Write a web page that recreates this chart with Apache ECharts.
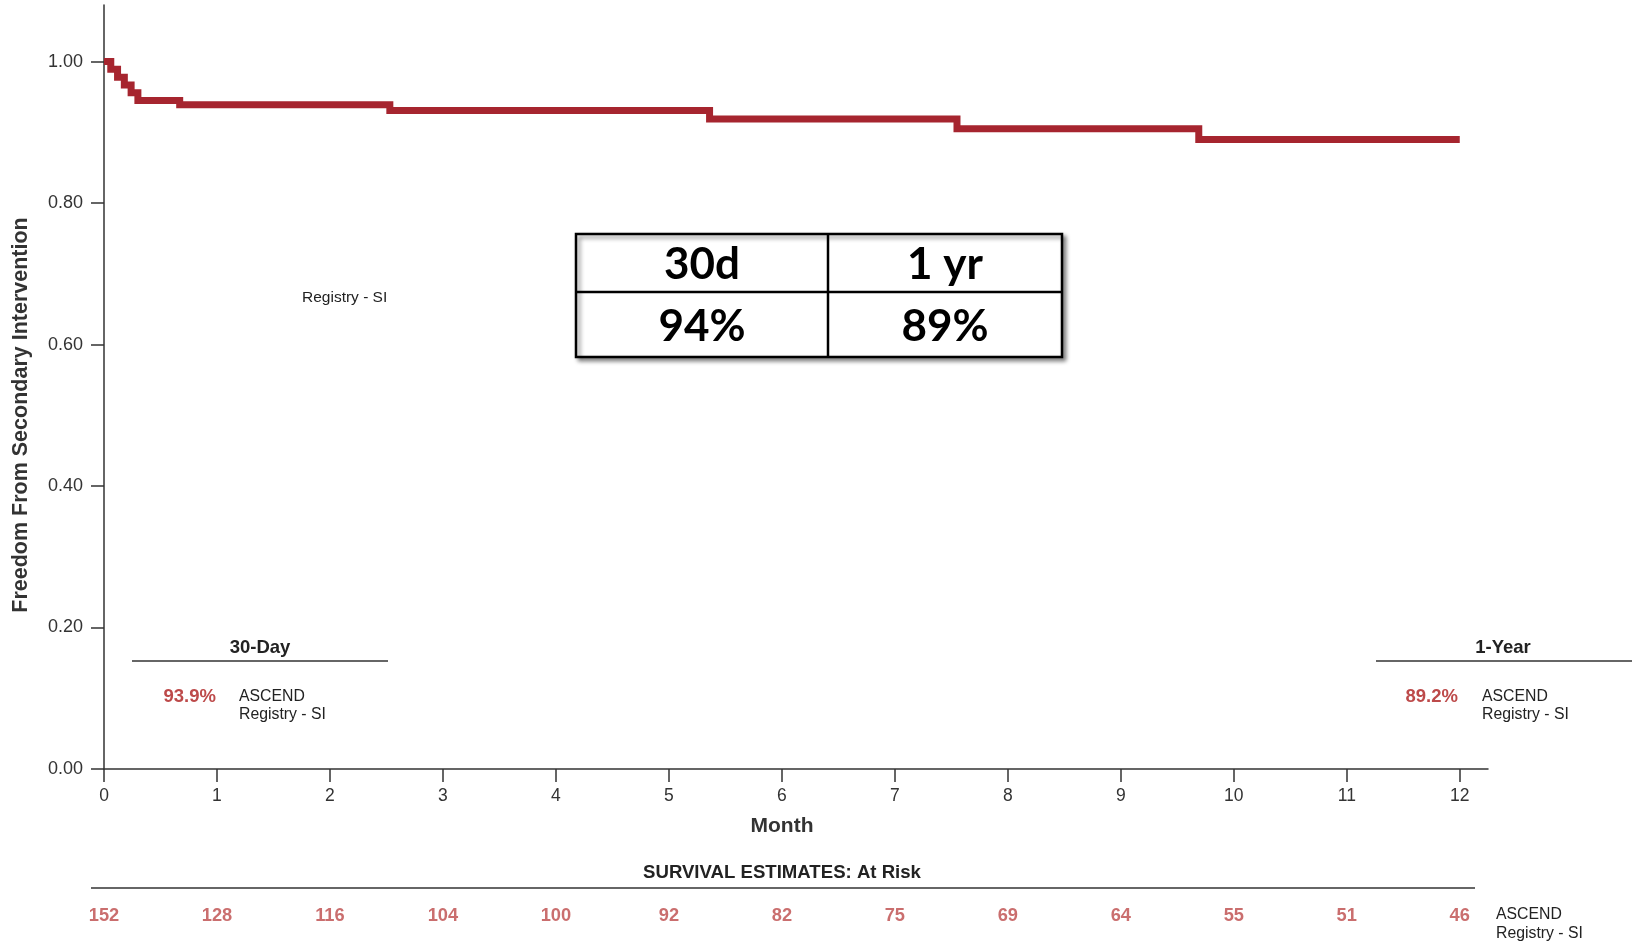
<!DOCTYPE html>
<html><head><meta charset="utf-8">
<script src="https://cdn.jsdelivr.net/npm/echarts@6/dist/echarts.min.js"></script>
<style>html,body{margin:0;padding:0;background:#fff}#c{width:1635px;height:942px}</style>
</head><body><div id="c"></div>
<script>
// Kaplan-Meier step data (months, freedom from secondary intervention)
const kmMonths = [0, 0.06, 0.12, 0.18, 0.24, 0.30, 0.67, 2.53, 5.36, 7.55, 9.69, 12];
const kmValues = [1.0, 0.989, 0.978, 0.967, 0.956, 0.945, 0.939, 0.931, 0.919, 0.905, 0.890, 0.890];
// At-risk table
const riskMonths = [0,1,2,3,4,5,6,7,8,9,10,11,12];
const atRisk = [152,128,116,104,100,92,82,75,69,64,55,51,46];
// Tick values
const xTicks = [0,1,2,3,4,5,6,7,8,9,10,11,12];
const yTicks = [0,0.2,0.4,0.6,0.8,1.0];
// Summary table
const tableHead = ['30d','1 yr'];
const tableVals = ['94%','89%'];
const est30 = '93.9%', est1y = '89.2%';

const RED = '#a6252f', TXTRED = '#bd4a4a', AX = '#333';
const FONT = '"Liberation Sans", Arial, sans-serif';
const chart = echarts.init(document.getElementById('c'));

const graphic = [];
function txt(x,y,text,opt){ graphic.push(Object.assign({type:'text',silent:true,style:Object.assign({x,y,text,font:'15px '+FONT,fill:'#222',textAlign:'left',textVerticalAlign:'middle'},opt||{})})); }
function line(x1,y1,x2,y2,w,c){ graphic.push({type:'line',silent:true,shape:{x1,y1,x2,y2},style:{stroke:c||'#333',lineWidth:w||1.5}}); }

// summary table
const tx=576, ty=234, tw=486, th=123, tmid=828, trow=292;
graphic.push({type:'rect',silent:true,shape:{x:tx,y:ty,width:tw,height:th},style:{fill:'#fff',stroke:'#000',lineWidth:2.5,shadowBlur:4,shadowOffsetX:3,shadowOffsetY:3,shadowColor:'rgba(0,0,0,0.45)'}});
line(tmid,ty,tmid,ty+th,2.5,'#000');
line(tx,trow,tx+tw,trow,2.5,'#000');
const tfont = 'bold 44px Lato, "Open Sans", sans-serif';
txt((tx+tmid)/2,265,tableHead[0],{font:tfont,fill:'#000',textAlign:'center'});
txt((tmid+tx+tw)/2,265,tableHead[1],{font:tfont,fill:'#000',textAlign:'center'});
txt((tx+tmid)/2,327,tableVals[0],{font:tfont,fill:'#000',textAlign:'center'});
txt((tmid+tx+tw)/2,327,tableVals[1],{font:tfont,fill:'#000',textAlign:'center'});

// y-axis title
graphic.push({type:'text',silent:true,x:21,y:415,rotation:Math.PI/2,
  style:{x:0,y:0,text:'Freedom From Secondary Intervention',font:'bold 21.5px '+FONT,fill:AX,textAlign:'center',textVerticalAlign:'middle'}});

// legend-ish label
txt(302,298,'Registry - SI',{font:'15.5px '+FONT});

// 30-day box
txt(260,648,'30-Day',{font:'bold 18.5px '+FONT,textAlign:'center'});
line(132,661,388,661,1.5,'#333');
txt(216,697,est30,{font:'bold 18.5px '+FONT,fill:TXTRED,textAlign:'right'});
txt(239,697,'ASCEND',{font:'15.8px '+FONT});
txt(239,715,'Registry - SI',{font:'15.8px '+FONT});
// 1-year box
txt(1503,648,'1-Year',{font:'bold 18.5px '+FONT,textAlign:'center'});
line(1376,661,1632,661,1.5,'#333');
txt(1458,697,est1y,{font:'bold 18.5px '+FONT,fill:TXTRED,textAlign:'right'});
txt(1482,697,'ASCEND',{font:'15.8px '+FONT});
txt(1482,715,'Registry - SI',{font:'15.8px '+FONT});

// at-risk header
txt(782,873,'SURVIVAL ESTIMATES: At Risk',{font:'bold 18.6px '+FONT,textAlign:'center'});
line(91,888,1475,888,1.5,'#333');
txt(1496,915,'ASCEND',{font:'15.8px '+FONT});
txt(1496,934,'Registry - SI',{font:'15.8px '+FONT});

chart.setOption({
  animation:false,
  backgroundColor:'#fff',
  graphic: graphic,
  grid:[
    {left:104,right:147,top:5,bottom:173,containLabel:false},
    {left:104,right:147,top:906,height:20,containLabel:false}
  ],
  xAxis:[
    {type:'value',gridIndex:0,min:0,max:12.25,interval:1,
     name:'Month',nameLocation:'middle',nameGap:47,
     nameTextStyle:{fontFamily:FONT,fontWeight:'bold',fontSize:21,color:AX,padding:[0,28,0,0]},
     axisLine:{lineStyle:{color:AX,width:1.5}},
     axisTick:{customValues:xTicks,length:13,lineStyle:{color:AX,width:1.5}},
     axisLabel:{customValues:xTicks,fontFamily:FONT,fontSize:17.5,color:AX,margin:18},
     splitLine:{show:false}},
    {type:'value',gridIndex:1,min:0,max:12.25,show:false}
  ],
  yAxis:[
    {type:'value',gridIndex:0,min:0,max:1.08,interval:0.2,
     axisLine:{show:true,lineStyle:{color:AX,width:1.5}},
     axisTick:{show:true,customValues:yTicks,length:13,lineStyle:{color:AX,width:1.5}},
     axisLabel:{customValues:yTicks,fontFamily:FONT,fontSize:18,color:AX,margin:21,formatter:v=>v.toFixed(2)},
     splitLine:{show:false}},
    {type:'category',gridIndex:1,data:['ASCEND'],show:false}
  ],
  series:[
    {type:'line',xAxisIndex:0,yAxisIndex:0,step:'end',symbol:'none',
     data:kmMonths.map((m,i)=>[m,kmValues[i]]),
     lineStyle:{color:RED,width:7,cap:'butt',join:'miter'}},
    {type:'scatter',xAxisIndex:1,yAxisIndex:1,symbolSize:1,itemStyle:{color:'rgba(0,0,0,0)'},
     data:riskMonths.map((m,i)=>[m,0,atRisk[i]]),
     label:{show:true,position:'inside',formatter:p=>String(p.value[2]),
       fontFamily:FONT,fontWeight:'bold',fontSize:18.3,color:TXTRED}}
  ]
});
</script></body></html>
